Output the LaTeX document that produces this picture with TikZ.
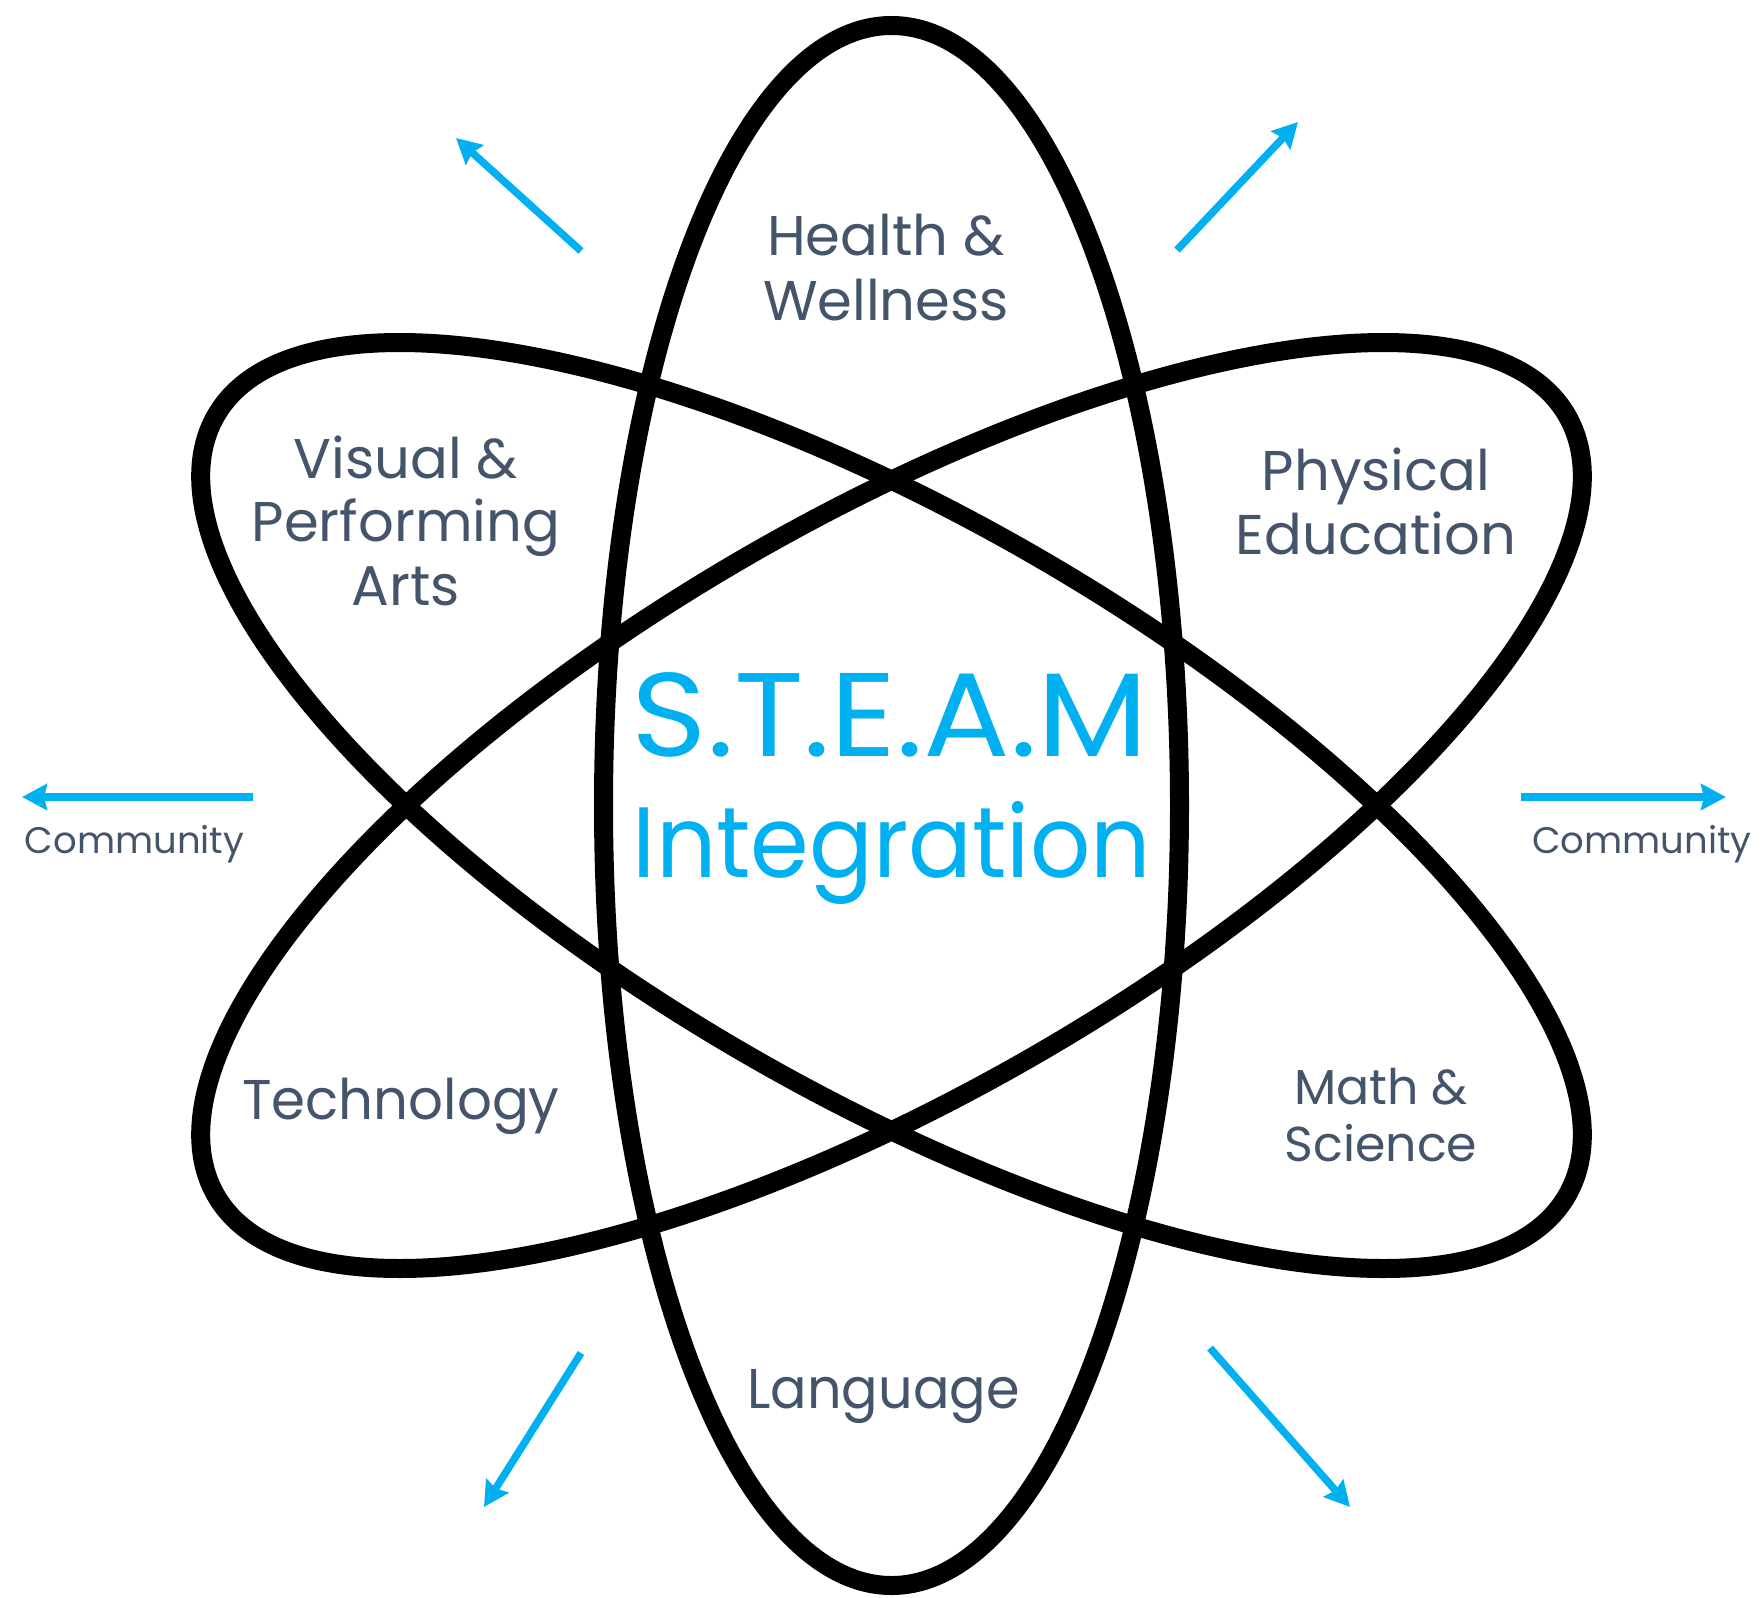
\documentclass[tikz,border=0pt]{standalone}
\usepackage{fontspec}
\setmainfont{Poppins}
\usetikzlibrary{arrows.meta}
\definecolor{txtgray}{HTML}{44546A}
\definecolor{steamblue}{HTML}{00B0F0}
\tikzset{
  orbit/.style={draw=black, line width=19pt},
  outarrow/.style={draw=steamblue, line width=7.5pt, -{Stealth[length=25pt, width=26pt, inset=3pt]}},
  catlabel/.style={text=txtgray, anchor=base, inner sep=0pt, font=\fontsize{56}{64}\selectfont},
  smalllabel/.style={text=txtgray, anchor=base, inner sep=0pt, font=\fontsize{49}{57}\selectfont},
  commlabel/.style={text=txtgray, anchor=base, inner sep=0pt, font=\fontsize{37}{44}\selectfont},
  titlebig/.style={text=steamblue, anchor=base, inner sep=0pt, font=\fontsize{119}{130}\selectfont},
  titlesub/.style={text=steamblue, anchor=base, inner sep=0pt, font=\fontsize{100}{110}\selectfont}
}
\begin{document}
\begin{tikzpicture}[x=1pt, y=-1pt]
\useasboundingbox (0,0) rectangle (1764,1598);
\coordinate (c) at (891.5,805.5);
% orbits
\draw[orbit] (c) ellipse [x radius=288pt, y radius=780pt];
\draw[orbit, rotate around={30:(c)}] (c) ellipse [x radius=780pt, y radius=288pt];
\draw[orbit, rotate around={-30:(c)}] (c) ellipse [x radius=780pt, y radius=288pt];
% title
\node[titlebig] (steam) at (890,756) {\scalebox{1.08}[1]{S.T.E.A.M}};
\node[titlesub] (integ) at (892,877.5) {\scalebox{0.945}[1]{Integration}};
% categories
\node[catlabel] (health1) at (886,255) {Health \&};
\node[catlabel] (health2) at (886,320) {Wellness};
\node[catlabel] (vis1) at (406,478) {Visual \&};
\node[catlabel] (vis2) at (406,541) {Performing};
\node[catlabel] (vis3) at (406,605) {Arts};
\node[catlabel] (phys1) at (1376,490) {Physical};
\node[catlabel] (phys2) at (1376,554) {Education};
\node[catlabel] (tech) at (401,1119) {\scalebox{0.975}[1]{Technology}};
\node[smalllabel] (math1) at (1381,1104) {Math \&};
\node[smalllabel] (math2) at (1381,1161) {Science};
\node[catlabel] (lang) at (883.5,1408) {\scalebox{0.965}[1]{Language}};
\node[commlabel] (commL) at (134.5,853) {Community};
\node[commlabel] (commR) at (1642,853) {Community};
% arrows
\coordinate (ulA) at (581,251);  \coordinate (ulB) at (456,138);
\coordinate (urA) at (1177,250); \coordinate (urB) at (1298,122);
\coordinate (lA) at (253,797);   \coordinate (lB) at (22,797);
\coordinate (rA) at (1521,797);  \coordinate (rB) at (1726,797);
\coordinate (llA) at (581,1353); \coordinate (llB) at (484,1507);
\coordinate (lrA) at (1210,1348); \coordinate (lrB) at (1350,1507);
\draw[outarrow] (ulA) -- (ulB);
\draw[outarrow] (urA) -- (urB);
\draw[outarrow] (lA) -- (lB);
\draw[outarrow] (rA) -- (rB);
\draw[outarrow] (llA) -- (llB);
\draw[outarrow] (lrA) -- (lrB);
\end{tikzpicture}
\end{document}
